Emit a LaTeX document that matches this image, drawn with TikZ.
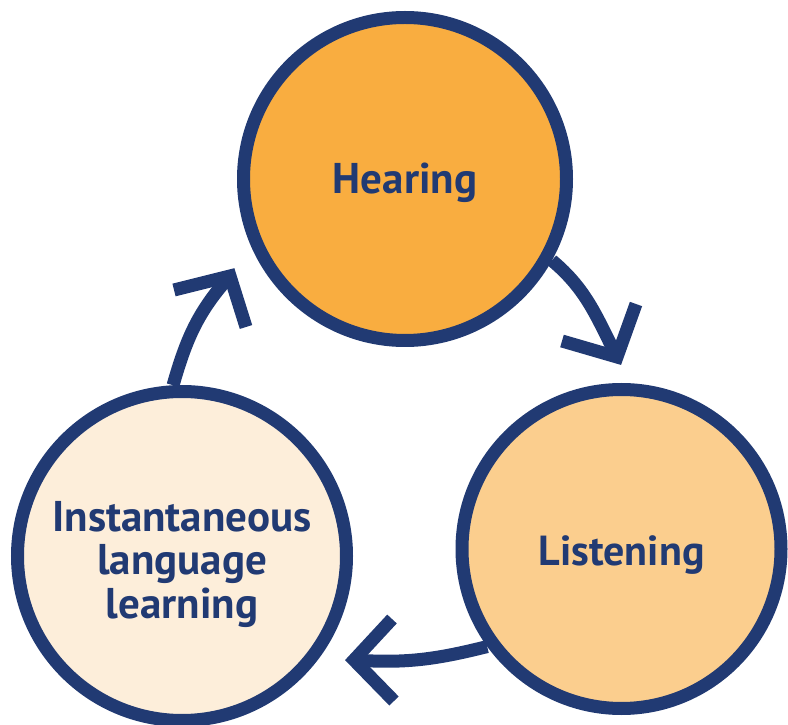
\documentclass[tikz,border=0pt]{standalone}
\usepackage{fontspec}
\setmainfont{PT Sans}
\begin{document}
\definecolor{navy}{HTML}{213A73}
\definecolor{hearfill}{HTML}{F9AD40}
\definecolor{listfill}{HTML}{FBCE8E}
\definecolor{instfill}{HTML}{FDEEDA}
\begin{tikzpicture}[x=1pt,y=1pt,
  stage/.style={circle, draw=navy, line width=13pt, inner sep=0pt,
    text=navy, font=\bfseries\fontsize{43}{43}\selectfont, align=center},
  shaft/.style={draw=navy, line width=13pt, line cap=butt},
  head/.style={draw=navy, line width=13pt, line cap=butt, line join=miter}]
  \useasboundingbox (0,0) rectangle (788,724);

  % the three stages of the cycle; each label sits on its own baseline
  \node[stage, fill=hearfill, minimum size=323pt] (H) at (405,545)
    {\raisebox{-15pt}[0pt][0pt]{Hearing}};
  \node[stage, fill=listfill, minimum size=319pt,
    font=\bfseries\fontsize{42}{43}\selectfont] (L) at (621.5,175)
    {\raisebox{-16.5pt}[0pt][0pt]{Listening}};
  \node[stage, fill=instfill, minimum size=329pt] (I) at (182,168)
    {\raisebox{24pt}[0pt][0pt]{\begin{tabular}[t]{@{}c@{}}Instantaneous\\language\\learning\end{tabular}}};

  % arrow tips and the ends of their barbs
  \coordinate (t1) at (230,448);
  \coordinate (t1a) at (174,434);
  \coordinate (t1b) at (246,397);
  \coordinate (t2) at (617,367);
  \coordinate (t2a) at (562,383);
  \coordinate (t2b) at (636,420);
  \coordinate (t3) at (354,64);
  \coordinate (t3a) at (392,105);
  \coordinate (t3b) at (394,23);

  % connectors
  \draw[shaft] (I.93) to[out=74, in=228] (t1);
  \draw[head] (t1a) -- (t1) -- (t1b);
  \draw[shaft] (H.-29) to[out=-40, in=117] (t2);
  \draw[head] (t2a) -- (t2) -- (t2b);
  \draw[shaft] (L.216) to[out=194, in=-4] (t3);
  \draw[head] (t3a) -- (t3) -- (t3b);
\end{tikzpicture}
\end{document}
